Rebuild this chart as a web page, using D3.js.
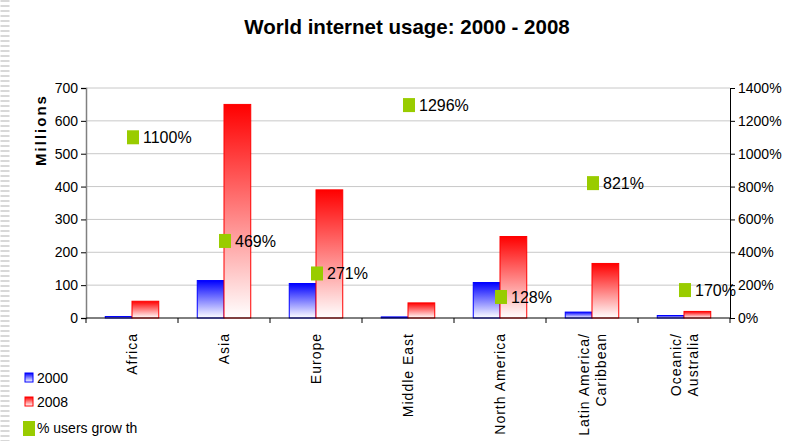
<!DOCTYPE html>
<html>
<head>
<meta charset="utf-8">
<script src="https://cdn.jsdelivr.net/npm/d3@7"></script>
<style>
  body { margin: 0; background: #fff; }
  text { font-family: "Liberation Sans", Arial, sans-serif; }
</style>
</head>
<body>
<script>
// chart data
var regions = ["Africa", "Asia", "Europe", "Middle East", "North America", "Latin America/\nCaribbean", "Oceanic/\nAustralia"];
var users2000 = [4.5, 114, 105, 3.3, 108, 18, 7.6];
var users2008 = [51, 650, 390, 46, 248, 166, 20];
var growth = [1100, 469, 271, 1296, 128, 821, 170];
var leftTicks = [0, 100, 200, 300, 400, 500, 600, 700];
var rightTicks = [0, 200, 400, 600, 800, 1000, 1200, 1400];

// svg size and plot area (window.top is reserved, so plot* names)
var w = 805;
var h = 441;
var plotLeft = 86, plotRight = 730, plotTop = 88, plotBottom = 318;

var svg = d3.select("body").append("svg")
            .attr("width", w)
            .attr("height", h);

// gradients for the bars
var defs = svg.append("defs");
function grad(id, color) {
  var g = defs.append("linearGradient")
              .attr("id", id)
              .attr("x1", 0).attr("y1", 0).attr("x2", 0).attr("y2", 1);
  g.append("stop").attr("offset", "0%").attr("stop-color", color);
  g.append("stop").attr("offset", "100%").attr("stop-color", "#ffffff");
}
grad("gBlue", "#0000ff");
grad("gRed", "#ff0000");

// slide decoration on the left edge
svg.append("line")
   .attr("x1", 5).attr("x2", 5)
   .attr("y1", 0).attr("y2", h)
   .attr("stroke", "#d8d8d8")
   .attr("stroke-width", 9)
   .attr("stroke-dasharray", "2,3");

// scales
var x = d3.scaleBand().domain(regions).range([plotLeft, plotRight]);
var inner = d3.scaleBand().domain([0, 1]).range([0, x.bandwidth()]).paddingOuter(0.72);
var yL = d3.scaleLinear().domain([0, 700]).range([plotBottom, plotTop]);
var yR = d3.scaleLinear().domain([0, 1400]).range([plotBottom, plotTop]);

// title
svg.append("text")
   .attr("x", 407).attr("y", 34)
   .attr("text-anchor", "middle")
   .style("font-size", "20.5px")
   .style("font-weight", "bold")
   .text("World internet usage: 2000 - 2008");

// gridlines
svg.append("g")
   .selectAll("line")
   .data(leftTicks.slice(1))
   .enter().append("line")
   .attr("x1", plotLeft).attr("x2", plotRight)
   .attr("y1", d => yL(d)).attr("y2", d => yL(d))
   .attr("stroke", "#c8c8c8");

// left axis
var gl = svg.append("g")
   .attr("transform", "translate(" + plotLeft + ",0)")
   .call(d3.axisLeft(yL).tickValues(leftTicks).tickSize(5).tickPadding(3));
gl.select(".domain").attr("stroke", "#808080").attr("stroke-width", 1.5);
gl.selectAll("text").style("font-size", "14px").attr("fill", "#000");

// right axis
var gr = svg.append("g")
   .attr("transform", "translate(" + plotRight + ",0)")
   .call(d3.axisRight(yR).tickValues(rightTicks).tickSize(5).tickPadding(3).tickFormat(d => d + "%"));
gr.selectAll("text").style("font-size", "14px").attr("fill", "#000");

// bars
var groups = svg.append("g")
   .selectAll("g")
   .data(regions)
   .enter().append("g")
   .attr("transform", d => "translate(" + x(d) + ",0)");

groups.append("rect")
   .attr("x", inner(0))
   .attr("y", (d, i) => yL(users2000[i]))
   .attr("width", inner.bandwidth())
   .attr("height", (d, i) => plotBottom - yL(users2000[i]))
   .attr("fill", "url(#gBlue)")
   .attr("stroke", "#0000ff");

groups.append("rect")
   .attr("x", inner(1))
   .attr("y", (d, i) => yL(users2008[i]))
   .attr("width", inner.bandwidth())
   .attr("height", (d, i) => plotBottom - yL(users2008[i]))
   .attr("fill", "url(#gRed)")
   .attr("stroke", "#ff0000");

// x axis line and ticks
svg.append("line")
   .attr("x1", plotLeft).attr("x2", plotRight)
   .attr("y1", plotBottom).attr("y2", plotBottom)
   .attr("stroke", "#000");
svg.append("g")
   .selectAll("line")
   .data(regions.concat(["end"]))
   .enter().append("line")
   .attr("x1", (d, i) => i < regions.length ? x(d) : plotRight)
   .attr("x2", (d, i) => i < regions.length ? x(d) : plotRight)
   .attr("y1", plotBottom).attr("y2", plotBottom + 5)
   .attr("stroke", "#000");

// category labels, rotated
groups.each(function(d) {
  var lines = d.split("\n");
  var t = d3.select(this).append("text")
     .attr("transform", "translate(" + (x.bandwidth() / 2) + "," + (plotBottom + 15) + ") rotate(-90)")
     .attr("text-anchor", "end")
     .style("font-size", "14px")
     .style("letter-spacing", "1px");
  lines.forEach(function(l, k) {
    t.append("tspan")
     .attr("x", 0)
     .attr("y", (k - (lines.length - 1) / 2) * 17 + 5)
     .text(l);
  });
});

// growth markers
groups.append("rect")
   .attr("x", x.bandwidth() / 2 - 5)
   .attr("y", (d, i) => yR(growth[i]) - 7)
   .attr("width", 12)
   .attr("height", 14)
   .attr("fill", "#99cc00");

groups.append("text")
   .attr("x", x.bandwidth() / 2 + 11)
   .attr("y", (d, i) => yR(growth[i]) + 6)
   .style("font-size", "16px")
   .text((d, i) => growth[i] + "%");

// y axis title
svg.append("text")
   .attr("transform", "translate(46,130) rotate(-90)")
   .attr("text-anchor", "middle")
   .style("font-size", "15px")
   .style("font-weight", "bold")
   .style("letter-spacing", "2px")
   .text("Millions");

// legend
var legendItems = [
  {name: "2000", fill: "url(#gBlue)", stroke: "#0000ff", y: 378},
  {name: "2008", fill: "url(#gRed)", stroke: "#ff0000", y: 402},
  {name: "% users grow th", fill: "#99cc00", stroke: "none", y: 428}
];
var lg = svg.append("g")
   .selectAll("g")
   .data(legendItems)
   .enter().append("g")
   .attr("transform", d => "translate(0," + d.y + ")");
lg.append("rect")
   .attr("x", (d, i) => i < 2 ? 25 : 23)
   .attr("y", (d, i) => i < 2 ? -5 : -7)
   .attr("width", (d, i) => i < 2 ? 8 : 12)
   .attr("height", (d, i) => i < 2 ? 9 : 15)
   .attr("fill", d => d.fill)
   .attr("stroke", d => d.stroke);
lg.append("text")
   .attr("x", 37)
   .attr("y", 5)
   .style("font-size", "14px")
   .text(d => d.name);
</script>
</body>
</html>
